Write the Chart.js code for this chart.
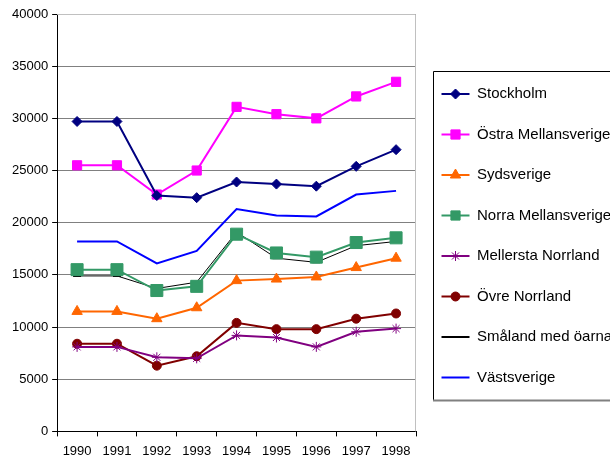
<!DOCTYPE html>
<html>
<head>
<meta charset="utf-8">
<script src="https://cdn.jsdelivr.net/npm/chart.js@4"></script>
<style>
  html, body { margin: 0; padding: 0; background: #fff; overflow: hidden; }
  #wrap { position: relative; width: 640px; height: 461px; }
</style>
</head>
<body>
<div id="wrap"><canvas id="chart"></canvas></div>
<script>
// ===== DATA =====
const years = ["1990", "1991", "1992", "1993", "1994", "1995", "1996", "1997", "1998"];
const stockholm = [29700, 29700, 22600, 22400, 23900, 23700, 23500, 25400, 27000];
const ostraMellansverige = [25500, 25500, 22700, 25000, 31100, 30400, 30000, 32100, 33500];
const sydsverige = [11500, 11500, 10800, 11850, 14450, 14600, 14800, 15700, 16600];
const norraMellansverige = [15500, 15500, 13500, 13900, 18900, 17100, 16700, 18100, 18550];
const mellerstaNorrland = [8100, 8100, 7100, 7000, 9200, 9000, 8100, 9550, 9850];
const ovreNorrland = [8400, 8400, 6300, 7200, 10400, 9800, 9800, 10800, 11300];
const smaland = [14900, 14900, 13700, 14300, 19100, 16600, 16200, 17800, 18200];
const vastsverige = [18200, 18200, 16100, 17300, 21300, 20700, 20600, 22700, 23050];
const yTicks = [0, 5000, 10000, 15000, 20000, 25000, 30000, 35000, 40000];

const FONT = "Liberation Sans, Arial, sans-serif";
const LEGEND_LEFT = 416;   // where the legend column starts (= plot right edge)

function series(label, data, color, style, radius, width) {
    return {
        label: label,
        data: data,
        borderColor: color,
        backgroundColor: color,
        pointStyle: style,
        pointRadius: radius,
        pointBorderWidth: style === "line" ? 2 : 1,
        pointBorderColor: color,
        pointBackgroundColor: color,
        borderWidth: width,
        tension: 0
    };
}

const datasets = [
    series("Stockholm", stockholm, "#000080", "rectRot", 5, 2),
    series("Östra Mellansverige", ostraMellansverige, "#ff00ff", "rect", 6.5, 2),
    series("Sydsverige", sydsverige, "#ff6600", "triangle", 6, 2),
    series("Norra Mellansverige", norraMellansverige, "#339966", "rect", 8.5, 2),
    series("Mellersta Norrland", mellerstaNorrland, "#800080", "star", 5, 2),
    series("Övre Norrland", ovreNorrland, "#800000", "circle", 4.5, 2),
    series("Småland med öarna", smaland, "#000000", "line", 4, 1),
    series("Västsverige", vastsverige, "#0000ff", false, 0, 2)
];

// ===== LEGEND WIDTH, MARKERS, BOX + PLOT BORDER =====
const extras = {
    id: "extras",
    beforeUpdate(chart) {
        const lg = chart.legend;
        if (lg && !lg._patched) {
            const fit = lg.fit;
            lg.fit = function () {
                fit.call(this);
                this.width = chart.width - LEGEND_LEFT;
            };
            lg._patched = true;
        }
    },
    afterDraw(chart) {
        const legend = chart.legend;
        if (!legend || !legend.legendHitBoxes.length) return;
        const ctx = chart.ctx;
        const boxes = legend.legendHitBoxes;
        const bw = legend.options.labels.boxWidth;
        const fs = legend.options.labels.font.size;
        ctx.save();
        boxes.forEach((hb, i) => {
            const ds = chart.data.datasets[i];
            if (!ds.pointStyle) return;
            ctx.fillStyle = ds.pointBackgroundColor;
            ctx.strokeStyle = ds.pointBorderColor;
            ctx.lineWidth = ds.pointBorderWidth;
            Chart.helpers.drawPoint(ctx, {
                pointStyle: ds.pointStyle,
                radius: ds.pointStyle === "rect" ? Math.min(ds.pointRadius, 6.5) : ds.pointRadius,
                borderWidth: ds.pointBorderWidth
            }, hb.left + bw / 2, hb.top + fs / 2);
        });
        const first = boxes[0], last = boxes[boxes.length - 1];
        const top = Math.round(first.top + fs / 2 - 23);
        const bottom = Math.round(last.top + fs / 2 + 22);
        const left = Math.round(first.left - 9);
        ctx.lineWidth = 1;
        ctx.strokeStyle = "#000";
        ctx.beginPath();
        ctx.moveTo(chart.width, top + 0.5);
        ctx.lineTo(left + 0.5, top + 0.5);
        ctx.lineTo(left + 0.5, bottom);
        ctx.stroke();
        ctx.strokeStyle = "#808080";
        ctx.lineWidth = 2;
        ctx.beginPath();
        ctx.moveTo(left, bottom + 0.5);
        ctx.lineTo(chart.width, bottom + 0.5);
        ctx.stroke();
        ctx.restore();
    },
    beforeDatasetsDraw(chart) {
        const a = chart.chartArea;
        const ctx = chart.ctx;
        ctx.save();
        ctx.strokeStyle = "#c0c0c0";
        ctx.lineWidth = 1;
        ctx.beginPath();
        ctx.moveTo(a.left, a.top + 0.5);
        ctx.lineTo(a.right - 0.5, a.top + 0.5);
        ctx.lineTo(a.right - 0.5, a.bottom);
        ctx.stroke();
        ctx.restore();
    }
};

new Chart(document.getElementById("chart"), {
    type: "line",
    data: { labels: years, datasets: datasets },
    options: {
        responsive: true,
        maintainAspectRatio: false,
        animation: false,
        layout: { padding: { left: 8, right: 0, top: 14, bottom: -5 } },
        plugins: {
            tooltip: { enabled: false },
            legend: {
                position: "right",
                align: "start",
                // empty title only used to push the entries down
                title: { display: true, text: "", color: "#000", font: { size: 10 }, padding: { top: 35, bottom: 0 } },
                labels: {
                    color: "#000",
                    font: { family: FONT, size: 15 },
                    boxWidth: 28,
                    boxHeight: 2,
                    padding: 25.5,
                    generateLabels(chart) {
                        return chart.data.datasets.map((ds, i) => ({
                            text: ds.label,
                            fillStyle: ds.borderColor,
                            strokeStyle: ds.borderColor,
                            fontColor: "#000",
                            lineWidth: 0,
                            datasetIndex: i
                        }));
                    }
                }
            }
        },
        scales: {
            x: {
                offset: true,
                grid: {
                    offset: true,
                    drawOnChartArea: false,
                    drawTicks: true,
                    tickLength: 5,
                    color: "#000"
                },
                border: { color: "#000", width: 1 },
                ticks: {
                    color: "#000",
                    font: { family: FONT, size: 13 },
                    maxRotation: 0,
                    padding: 7
                }
            },
            y: {
                min: 0,
                max: 40000,
                afterBuildTicks(axis) {
                    axis.ticks = yTicks.map(v => ({ value: v }));
                },
                grid: {
                    color: "#808080",
                    tickLength: 5,
                    tickColor: "#000"
                },
                border: { color: "#000", width: 1 },
                ticks: {
                    color: "#000",
                    font: { family: FONT, size: 13 },
                    padding: 4,
                    callback: v => String(v)
                }
            }
        }
    },
    plugins: [extras]
});
</script>
</body>
</html>
